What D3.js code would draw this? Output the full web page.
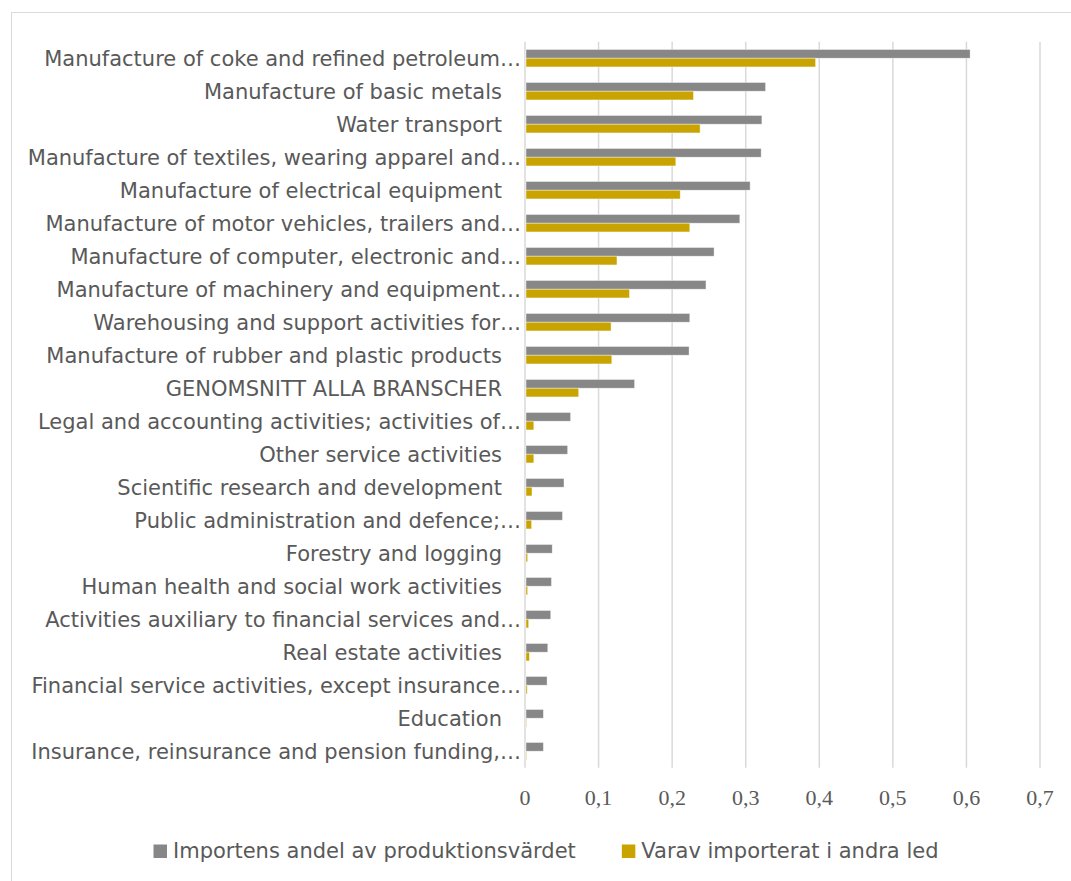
<!DOCTYPE html>
<html>
<head>
<meta charset="utf-8">
<script src="https://cdn.jsdelivr.net/npm/d3@7"></script>
<style>
  body { margin: 0; background: #fff; }
  .cat-label { font-family: "DejaVu Sans", sans-serif; font-size: 21px; fill: #595959; }
  .tick-label { font-family: "Liberation Serif", serif; font-size: 22px; fill: #595959; }
  .legend-label { font-family: "DejaVu Sans", sans-serif; font-size: 21px; fill: #595959; }
</style>
</head>
<body>
<svg id="chart"></svg>
<script>
// Data
const categories = [
    "Manufacture of coke and refined petroleum…",
    "Manufacture of basic metals",
    "Water transport",
    "Manufacture of textiles, wearing apparel and…",
    "Manufacture of electrical equipment",
    "Manufacture of motor vehicles, trailers and…",
    "Manufacture of computer, electronic and…",
    "Manufacture of machinery and equipment…",
    "Warehousing and support activities for…",
    "Manufacture of rubber and plastic products",
    "GENOMSNITT ALLA BRANSCHER",
    "Legal and accounting activities; activities of…",
    "Other service activities",
    "Scientific research and development",
    "Public administration and defence;…",
    "Forestry and logging",
    "Human health and social work activities",
    "Activities auxiliary to financial services and…",
    "Real estate activities",
    "Financial service activities, except insurance…",
    "Education",
    "Insurance, reinsurance and pension funding,…"
];
const importShare = [0.605, 0.327, 0.322, 0.321, 0.306, 0.292, 0.257, 0.246, 0.224, 0.223, 0.149,
    0.062, 0.058, 0.053, 0.051, 0.037, 0.036, 0.035, 0.031, 0.030, 0.025, 0.025];
const indirectShare = [0.395, 0.229, 0.238, 0.205, 0.211, 0.224, 0.125, 0.142, 0.117, 0.118, 0.073,
    0.012, 0.012, 0.0095, 0.009, 0.0036, 0.0036, 0.005, 0.006, 0.003, 0.002, 0.002];
const seriesNames = ["Importens andel av produktionsvärdet", "Varav importerat i andra led"];
const tickValues = [0, 0.1, 0.2, 0.3, 0.4, 0.5, 0.6, 0.7];

// Kích thước
const width = 1071;
const height = 881;
const margin = { top: 41.7, right: 31, bottom: 113.3, left: 525 };

const svg = d3.select("#chart")
    .attr("width", width)
    .attr("height", height);

// Khung ngoài
svg.append("rect")
    .attr("x", 11.5)
    .attr("y", 12.5)
    .attr("width", width)
    .attr("height", height)
    .attr("fill", "none")
    .attr("stroke", "#d9d9d9")
    .attr("stroke-width", 1);

const rows = categories.map((c, i) => ({ cat: c, values: [importShare[i], indirectShare[i]] }));

const x = d3.scaleLinear()
    .domain([0, 0.7])
    .range([margin.left, width - margin.right]);

const y = d3.scaleBand()
    .domain(categories)
    .range([margin.top, height - margin.bottom])
    .paddingInner(0.47)
    .paddingOuter(0.235);

const ySub = d3.scaleBand()
    .domain([0, 1])
    .range([0, y.bandwidth()]);

const colors = ["#878787", "#c9a400"];

// Lưới
svg.append("g")
    .selectAll("line")
    .data(tickValues)
    .join("line")
    .attr("x1", d => x(d))
    .attr("x2", d => x(d))
    .attr("y1", margin.top)
    .attr("y2", height - margin.bottom)
    .attr("stroke", "#d9d9d9")
    .attr("stroke-width", 1.5);

// Nhãn trục x
svg.append("g")
    .selectAll("text")
    .data(tickValues)
    .join("text")
    .attr("class", "tick-label")
    .attr("x", d => x(d))
    .attr("y", 805)
    .attr("text-anchor", "middle")
    .text(d => d3.format(".1~f")(d).replace(".", ","));

// Cột
const groups = svg.append("g")
    .selectAll("g")
    .data(rows)
    .join("g")
    .attr("transform", d => `translate(0,${y(d.cat)})`);

groups.selectAll("rect")
    .data(d => d.values.map((v, k) => ({ k, v })))
    .join("rect")
    .attr("x", x(0) + 1)
    .attr("y", d => ySub(d.k))
    .attr("width", d => Math.max(0, x(d.v) - x(0) - 1))
    .attr("height", ySub.bandwidth())
    .attr("fill", d => colors[d.k])
    .attr("stroke", "#fff")
    .attr("stroke-opacity", 0.6)
    .attr("stroke-width", 0.7);

// Nhãn danh mục
svg.append("g")
    .selectAll("text")
    .data(categories)
    .join("text")
    .attr("class", "cat-label")
    .attr("x", d => d.endsWith("…") ? 521 : 502)
    .attr("y", d => y(d) + y.bandwidth() / 2)
    .attr("dy", "0.36em")
    .attr("text-anchor", "end")
    .text(d => d);

// Legend
const legend = svg.append("g")
    .attr("transform", "translate(153.5, 844.5)");

let lx = 0;
seriesNames.forEach((name, i) => {
    const item = legend.append("g").attr("transform", `translate(${lx},0)`);
    item.append("rect")
        .attr("width", 13.5)
        .attr("height", 13.5)
        .attr("fill", colors[i]);
    const t = item.append("text")
        .attr("class", "legend-label")
        .attr("x", 19.5)
        .attr("y", 13.5)
        .text(name);
    lx += 19.5 + t.node().getComputedTextLength() + 46;
});
</script>
</body>
</html>
